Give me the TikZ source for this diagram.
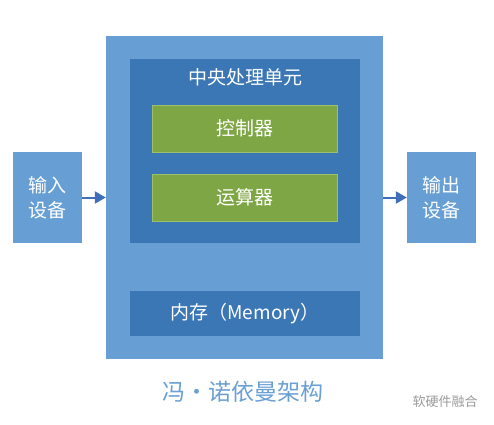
\documentclass[tikz,border=0pt]{standalone}
\usepackage{fontspec}
\setmainfont{Noto Sans CJK SC}
\usepackage{xcolor}
\usetikzlibrary{arrows.meta, positioning}

\definecolor{outerblue}{HTML}{679FD4}
\definecolor{innerblue}{HTML}{3B76B5}
\definecolor{unitgreen}{HTML}{7FA645}
\definecolor{unitedge}{HTML}{9CBF6C}
\definecolor{arrowblue}{HTML}{3F6FBA}
\definecolor{titleblue}{HTML}{6A9FD4}
\definecolor{markgray}{HTML}{9A9A9A}

\begin{document}
\begin{tikzpicture}[x=1pt, y=-1pt,
    box/.style={rectangle, inner sep=0pt, text=white, font=\fontsize{19}{22}\selectfont},
    lightbox/.style={box, fill=outerblue},
    darkbox/.style={box, fill=innerblue},
    unitbox/.style={box, fill=unitgreen, draw=unitedge, line width=0.6pt},
    flow/.style={-{Triangle[length=11pt, width=12pt]}, draw=arrowblue, line width=2pt}]
\useasboundingbox (0,0) rectangle (494,424);

% main machine
\node[lightbox, minimum width=277pt, minimum height=323pt] (machine) at (244.5,197.5) {};
\node[darkbox, minimum width=230pt, minimum height=184pt] (cpu) at (245,151) {};
\node[box] (cpulabel) at (245,77) {中央处理单元};
\node[unitbox, minimum width=185pt, minimum height=47pt] (ctrl) at (245,128.5) {控制器};
\node[unitbox, minimum width=185pt, minimum height=47pt] (alu) at (245,197.5) {运算器};
\node[darkbox, minimum width=230pt, minimum height=45pt] (mem) at (245,313.5) {内存（Memory）};

% input / output
\node[lightbox, minimum width=69pt, minimum height=91pt, align=center,
      font=\fontsize{19}{25}\selectfont] (input) at (47.5,197.5) {输入\\设备};
\node[lightbox, minimum width=69pt, minimum height=91pt, align=center,
      font=\fontsize{19}{25}\selectfont] (output) at (441.5,197.5) {输出\\设备};
\draw[flow] (input.east) -- (machine.west);
\draw[flow] (machine.east) -- (output.west);

% caption
\node[text=titleblue, font=\fontsize{23}{26}\selectfont] (title) at (243,392) {冯·诺依曼架构};
\node[text=markgray, font=\fontsize{13}{15}\selectfont] (mark) at (445,402) {软硬件融合};
\end{tikzpicture}
\end{document}
